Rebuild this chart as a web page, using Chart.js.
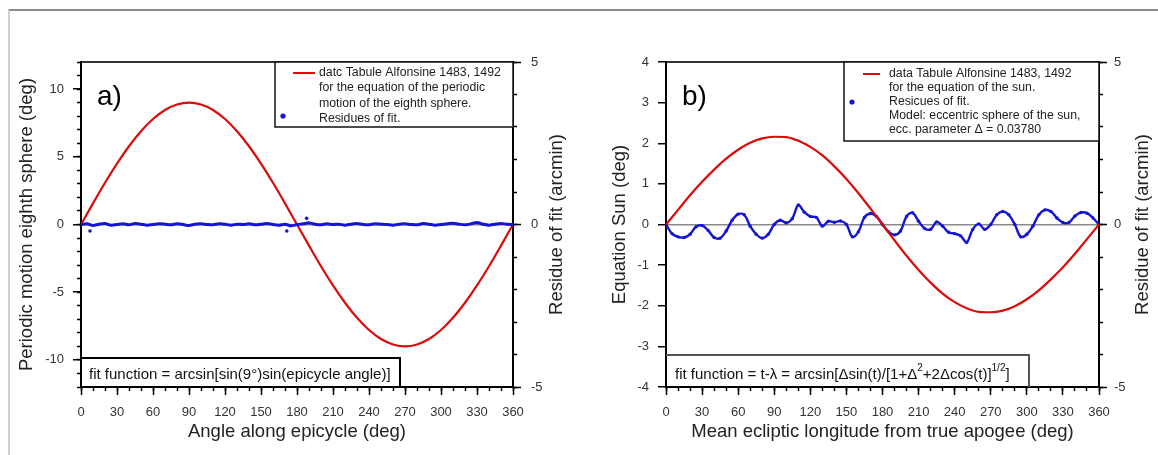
<!DOCTYPE html>
<html>
<head>
<meta charset="utf-8">
<script src="https://cdn.jsdelivr.net/npm/chart.js@4.4.1/dist/chart.umd.min.js"></script>
<style>
  body { margin: 0; background: #fff; width: 1158px; height: 455px; overflow: hidden; position: relative; }
  #frame { position: absolute; left: 8px; top: 9px; width: 1160px; height: 460px;
           border-top: 2px solid #8a8a8a; border-left: 2px solid #d0d0d0; }
  canvas { position: absolute; top: 0; }
  #chartA { left: 0; }
  #chartB { left: 579px; }
</style>
</head>
<body>
<div id="frame"></div>
<canvas id="chartA" width="579" height="455"></canvas>
<canvas id="chartB" width="579" height="455"></canvas>
<script>
// tick positions
const angleTicks = [0, 30, 60, 90, 120, 150, 180, 210, 240, 270, 300, 330, 360];
const angleMinor = [0, 10, 20, 30, 40, 50, 60, 70, 80, 90, 100, 110, 120, 130, 140, 150, 160, 170, 180,
  190, 200, 210, 220, 230, 240, 250, 260, 270, 280, 290, 300, 310, 320, 330, 340, 350, 360];
const motionTicks = [-10, -5, 0, 5, 10];
const motionMinor = [-12, -11, -10, -9, -8, -7, -6, -5, -4, -3, -2, -1, 0, 1, 2, 3, 4, 5, 6, 7, 8, 9, 10, 11, 12];
const sunTicks = [-4, -3, -2, -1, 0, 1, 2, 3, 4];
const residTicks = [-5, 0, 5];
const residMinor = [-5, -4, -3, -2, -1, 0, 1, 2, 3, 4, 5];

// red curves, every 10 deg
const angles10 = [0, 10, 20, 30, 40, 50, 60, 70, 80, 90, 100, 110, 120, 130, 140, 150, 160, 170, 180,
  190, 200, 210, 220, 230, 240, 250, 260, 270, 280, 290, 300, 310, 320, 330, 340, 350, 360];
const motionA = [0, 1.56, 3.08, 4.50, 5.78, 6.89, 7.79, 8.46, 8.86, 9.00, 8.86, 8.46, 7.79, 6.89, 5.78, 4.50, 3.08, 1.56, 0,
  -1.56, -3.08, -4.50, -5.78, -6.89, -7.79, -8.46, -8.86, -9.00, -8.86, -8.46, -7.79, -6.89, -5.78, -4.50, -3.08, -1.56, 0];
const sunB = [0, 0.36, 0.72, 1.05, 1.35, 1.62, 1.84, 2.01, 2.12, 2.16, 2.15, 2.06, 1.91, 1.70, 1.43, 1.12, 0.77, 0.39, 0,
  -0.39, -0.77, -1.12, -1.43, -1.70, -1.91, -2.06, -2.15, -2.16, -2.12, -2.01, -1.84, -1.62, -1.35, -1.05, -0.72, -0.36, 0];

// residues (arcmin), every 5 deg
const angles5 = [0, 5, 10, 15, 20, 25, 30, 35, 40, 45, 50, 55, 60, 65, 70, 75, 80, 85, 90, 95, 100, 105, 110, 115,
  120, 125, 130, 135, 140, 145, 150, 155, 160, 165, 170, 175, 180, 185, 190, 195, 200, 205, 210, 215, 220, 225,
  230, 235, 240, 245, 250, 255, 260, 265, 270, 275, 280, 285, 290, 295, 300, 305, 310, 315, 320, 325, 330, 335,
  340, 345, 350, 355, 360];
const residA = [0, 0.02, -0.03, 0.01, 0.03, -0.02, 0.00, 0.02, -0.01, 0.03,
  0.01, -0.02, 0.00, 0.02, 0.01, -0.01, 0.02, 0.00, -0.03, 0.01,
  0.02, 0.00, -0.01, 0.02, 0.01, -0.02, 0.01, 0.00, 0.02, -0.01,
  0.01, 0.03, 0.00, -0.02, 0.01, -0.04, 0.00, 0.02, 0.05, 0.01,
  -0.01, 0.02, 0.00, 0.01, -0.02, 0.01, 0.03, 0.00, -0.01, 0.02,
  0.01, 0.00, -0.02, 0.01, 0.02, 0.00, -0.01, 0.03, 0.01, -0.02,
  0.00, 0.02, 0.04, 0.01, -0.01, 0.02, 0.06, 0.01, -0.02, 0.01,
  0.03, 0.01, 0];
const outlierAngles = [7.5, 171.5, 188];
const outlierResid = [-0.2, -0.2, 0.19];
const residB = [0, -0.28, -0.38, -0.40, -0.30, -0.07, -0.03, -0.18, -0.40, -0.42,
  -0.20, 0.13, 0.32, 0.30, -0.05, -0.30, -0.42, -0.30, 0.00, 0.13,
  0.05, 0.18, 0.60, 0.38, 0.25, 0.22, -0.05, 0.10, 0.07, 0.11,
  0.00, -0.38, -0.22, 0.22, 0.34, 0.25, 0.00, -0.22, -0.32, -0.20,
  0.25, 0.36, 0.10, -0.12, -0.15, 0.08, -0.05, -0.24, -0.28, -0.35,
  -0.55, -0.15, 0.02, -0.15, 0.00, 0.30, 0.40, 0.30, 0.00, -0.38,
  -0.30, -0.05, 0.30, 0.45, 0.40, 0.20, 0.06, 0.06, 0.26, 0.37,
  0.35, 0.20, 0];

const RED = '#dd0a0a';
const BLUE = '#1414d2';
const FAM = '"Liberation Sans", Arial, sans-serif';
const tickFont = { family: '"Liberation Sans Narrow", "Liberation Sans", sans-serif', size: 13 };
const titleFont = { family: FAM, size: 18.5 };

const pts = (xs, ys) => xs.map((x, i) => ({ x: x, y: ys[i] }));
const setTicks = arr => s => { s.ticks = arr.map(v => ({ value: v })); };

// legend, fit-function box, panel letter, right axis title
const annot = {
  id: 'annot',
  afterDraw(chart, args, o) {
    const c = chart.ctx, a = chart.chartArea;
    c.save();
    // fit function box
    const f = o.fit;
    c.fillStyle = '#fff';
    c.fillRect(a.left + 1, a.bottom - f.h, f.w, f.h - 1);
    c.strokeStyle = f.stroke;
    c.lineWidth = 2;
    c.beginPath();
    c.moveTo(a.left, a.bottom - f.h);
    c.lineTo(a.left + f.w, a.bottom - f.h);
    c.lineTo(a.left + f.w, a.bottom);
    c.stroke();
    c.fillStyle = '#111';
    c.textBaseline = 'middle';
    let x = a.left + f.dx;
    const fy = a.bottom - 12;
    f.parts.forEach(p => {
      c.font = p.sup ? '10px ' + FAM : f.size + 'px ' + FAM;
      c.fillText(p.t, x, p.sup ? fy - 7 : fy);
      x += c.measureText(p.t).width;
    });

    // legend box
    const g = o.legend, gx = a.right - g.w;
    c.fillStyle = '#fff';
    c.fillRect(gx, a.top, g.w, g.h);
    c.strokeStyle = '#111';
    c.lineWidth = 1.5;
    c.strokeRect(gx, a.top, g.w, g.h);
    c.strokeStyle = RED;
    c.lineWidth = 2;
    c.beginPath();
    c.moveTo(gx + g.line[0], a.top + g.ys[0]);
    c.lineTo(gx + g.line[1], a.top + g.ys[0]);
    c.stroke();
    c.fillStyle = BLUE;
    c.beginPath();
    c.arc(gx + g.dot[0], a.top + g.dot[1], 2.6, 0, Math.PI * 2);
    c.fill();
    c.fillStyle = '#222';
    c.font = '12.3px ' + FAM;
    g.lines.forEach((t, i) => c.fillText(t, gx + g.tx, a.top + g.ys[i]));

    // panel letter
    c.fillStyle = '#000';
    c.font = '28px ' + FAM;
    c.textBaseline = 'alphabetic';
    c.fillText(o.letter, a.left + 16, a.top + 43);

    // right axis title (reads bottom to top)
    c.translate(a.right + 44, (a.top + a.bottom) / 2);
    c.rotate(-Math.PI / 2);
    c.textAlign = 'center';
    c.textBaseline = 'middle';
    c.font = '18.5px ' + FAM;
    c.fillStyle = '#222';
    c.fillText(o.rightTitle, 0, 0);
    c.restore();
  }
};

function panel(id, o) {
  const zeroGrid = ctx => (ctx.tick && ctx.tick.value === 0) ? '#8a8a8a' : 'rgba(0,0,0,0)';
  const scales = {
    x: {
      type: 'linear', position: 'bottom', weight: 1, min: 0, max: 360,
      afterBuildTicks: setTicks(angleTicks),
      afterFit: s => { s.height = 68; },
      ticks: { font: tickFont, color: '#333', padding: 10, maxRotation: 0, autoSkip: false },
      grid: { drawOnChartArea: false, tickLength: 8, tickColor: '#000', tickWidth: 1.5 },
      border: { color: '#000', width: 2 },
      title: { display: true, text: o.xTitle, font: titleFont, color: '#222', padding: { top: 0, bottom: 12 } }
    },
    xm: {
      type: 'linear', position: 'bottom', weight: 0, min: 0, max: 360,
      afterBuildTicks: setTicks(angleMinor),
      afterFit: s => { s.height = 0; },
      ticks: { display: false },
      grid: { drawOnChartArea: false, tickLength: 4, tickColor: '#000', tickWidth: 1.5 },
      border: { display: false }
    },
    xt: {
      type: 'linear', position: 'top', min: 0, max: 360,
      afterFit: s => { s.height = 0; },
      ticks: { display: false },
      grid: { display: false },
      border: { color: '#333', width: 2 }
    },
    y: {
      type: 'linear', position: 'left', weight: 1, min: o.yMin, max: o.yMax,
      afterBuildTicks: setTicks(o.yTicks),
      afterFit: s => { s.width = o.leftW; },
      ticks: { font: tickFont, color: '#333', padding: o.yPad },
      grid: { drawOnChartArea: true, color: zeroGrid, lineWidth: 1.5, tickLength: 8, tickColor: '#000', tickWidth: 1.5 },
      border: { color: '#000', width: 2 },
      title: { display: true, text: o.yTitle, font: titleFont, color: '#222', padding: { top: o.yTitlePad, bottom: 0 } }
    },
    y2: {
      type: 'linear', position: 'right', weight: 1, min: -5, max: 5,
      afterBuildTicks: setTicks(residTicks),
      afterFit: s => { s.width = o.rightW; },
      ticks: { font: tickFont, color: '#333', padding: o.y2Pad },
      grid: { drawOnChartArea: false, tickLength: 8, tickColor: '#000', tickWidth: 1.5 },
      border: { color: '#000', width: 2 }
    },
    y2m: {
      type: 'linear', position: 'right', weight: 0, min: -5, max: 5,
      afterBuildTicks: setTicks(residMinor),
      afterFit: s => { s.width = 0; },
      ticks: { display: false },
      grid: { drawOnChartArea: false, tickLength: 4, tickColor: '#000', tickWidth: 1.5 },
      border: { display: false }
    }
  };
  if (o.yMinor) {
    scales.ym = {
      type: 'linear', position: 'left', weight: 0, min: o.yMin, max: o.yMax,
      afterBuildTicks: setTicks(o.yMinor),
      afterFit: s => { s.width = 0; },
      ticks: { display: false },
      grid: { drawOnChartArea: false, tickLength: 4, tickColor: '#000', tickWidth: 1.5 },
      border: { display: false }
    };
  }

  return new Chart(document.getElementById(id), {
    type: 'scatter',
    data: { datasets: o.datasets },
    options: {
      responsive: false,
      animation: false,
      devicePixelRatio: 1,
      layout: { padding: { top: 62, left: 0, right: 0, bottom: 0 } },
      scales: scales,
      plugins: {
        legend: { display: false },
        tooltip: { enabled: false },
        annot: o.annot
      }
    },
    plugins: [annot]
  });
}

panel('chartA', {
  xTitle: 'Angle along epicycle (deg)',
  yTitle: 'Periodic motion eighth sphere (deg)',
  yMin: -12, yMax: 12, yTicks: motionTicks, yMinor: motionMinor,
  leftW: 81, rightW: 66, yPad: 9, y2Pad: 10, yTitlePad: 16,
  datasets: [
    { data: pts(angles5, residA), yAxisID: 'y2', showLine: true, borderColor: BLUE, borderWidth: 3,
      pointRadius: 0, tension: 0.3 },
    { data: pts(outlierAngles, outlierResid), yAxisID: 'y2', showLine: false, backgroundColor: BLUE,
      pointRadius: 1.8, pointBorderWidth: 0 },
    { data: pts(angles10, motionA), yAxisID: 'y', showLine: true, borderColor: RED, borderWidth: 2.2,
      pointRadius: 0, cubicInterpolationMode: 'monotone' }
  ],
  annot: {
    letter: 'a)',
    rightTitle: 'Residue of fit (arcmin)',
    legend: {
      w: 238, h: 65, tx: 44, line: [18, 40], dot: [8, 54],
      ys: [11, 26, 41.5, 56.5],
      lines: ['datc Tabule Alfonsine 1483, 1492', 'for the equation of the periodic',
              'motion of the eighth sphere.', 'Residues of fit.']
    },
    fit: {
      w: 319, h: 29, dx: 8, stroke: '#000', size: 15,
      parts: [{ t: 'fit function = arcsin[sin(9°)sin(epicycle angle)]' }]
    }
  }
});

panel('chartB', {
  xTitle: 'Mean ecliptic longitude from true apogee (deg)',
  yTitle: 'Equation Sun (deg)',
  yMin: -4, yMax: 4, yTicks: sunTicks, yMinor: null,
  leftW: 87, rightW: 59, yPad: 9, y2Pad: 7, yTitlePad: 30,
  datasets: [
    { data: pts(angles10, sunB), yAxisID: 'y', showLine: true, borderColor: RED, borderWidth: 2.2,
      pointRadius: 0, cubicInterpolationMode: 'monotone' },
    { data: pts(angles5, residB), yAxisID: 'y2', showLine: true, borderColor: BLUE, borderWidth: 2.4,
      pointRadius: 1.7, pointBorderWidth: 0, backgroundColor: BLUE, tension: 0.35 }
  ],
  annot: {
    letter: 'b)',
    rightTitle: 'Residue of fit (arcmin)',
    legend: {
      w: 255, h: 79, tx: 45, line: [19, 36], dot: [8, 40],
      ys: [12, 26, 40, 54, 68],
      lines: ['data Tabule Alfonsine 1483, 1492', 'for the equation of the sun.', 'Resicues of fit.',
              'Model: eccentric sphere of the sun,', 'ecc. parameter Δ = 0.03780']
    },
    fit: {
      w: 363, h: 32, dx: 9, stroke: '#555', size: 15,
      parts: [{ t: 'fit function = t-λ = arcsin[Δsin(t)/[1+Δ' }, { t: '2', sup: true },
              { t: '+2Δcos(t)]' }, { t: '1/2', sup: true }, { t: ']' }]
    }
  }
});
</script>
</body>
</html>
